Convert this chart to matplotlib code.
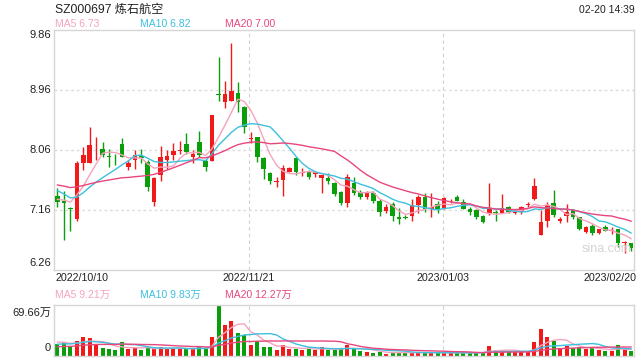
import matplotlib
matplotlib.use('Agg')
import matplotlib.pyplot as plt
import numpy as np

plt.rcParams['font.family'] = ['Liberation Sans', 'Noto Sans CJK SC', 'DejaVu Sans']

title = 'SZ000697 炼石航空'
timestamp = '02-20 14:39'
date_labels = ['2022/10/10', '2022/11/21', '2023/01/03', '2023/02/20']
date_label_idx = [0, 30, 60, 89]
price_ticks = [9.86, 8.96, 8.06, 7.16, 6.26]
vol_max = 69.66
ma_periods = [5, 10, 20]
ma_price_last = [6.73, 6.82, 7.00]
ma_vol_last = [9.21, 9.83, 12.27]

opens = [7.37, 7.29, 7.19, 7.02, 7.87, 7.87, 8.07, 8.075, 7.965, 7.955,
         8.15, 7.81, 7.91, 7.97, 7.885, 7.285, 7.685, 7.91, 7.985, 8.05,
         8.15, 7.95, 8.185, 7.895, 7.90, 8.90, 8.785, 8.80, 8.91, 8.70,
         8.22, 8.25, 7.935, 7.71, 7.58, 7.61, 7.735, 7.935, 7.72, 7.75,
         7.70, 7.635, 7.645, 7.57, 7.43, 7.26, 7.56, 7.435, 7.36, 7.42,
         7.30, 7.15, 7.25, 7.05, 7.05, 7.075, 7.235, 7.36, 7.175, 7.25,
         7.19, 7.29, 7.36, 7.275, 7.175, 7.16, 7.07, 7.12, 7.135, 7.12,
         7.20, 7.12, 7.135, 7.24, 7.32, 6.785, 7.00, 7.27, 6.995, 7.07,
         7.16, 7.05, 6.835, 6.92, 6.82, 6.91, 6.845, 6.87, 6.66, 6.66]
highs = [7.49, 7.44, 7.21, 7.90, 8.11, 8.40, 8.26, 8.175, 8.075, 8.00,
         8.235, 7.91, 8.06, 8.075, 7.91, 7.66, 8.12, 8.06, 8.16, 8.195,
         8.31, 8.06, 8.35, 7.92, 8.585, 9.45, 9.095, 9.67, 9.085, 8.72,
         8.335, 8.25, 7.95, 7.735, 7.65, 7.835, 7.81, 7.95, 7.785, 7.76,
         7.735, 7.685, 7.71, 7.585, 7.45, 7.70, 7.66, 7.46, 7.44, 7.44,
         7.33, 7.25, 7.28, 7.185, 7.08, 7.33, 7.39, 7.42, 7.42, 7.30,
         7.35, 7.33, 7.38, 7.32, 7.21, 7.17, 7.08, 7.56, 7.16, 7.40,
         7.22, 7.15, 7.22, 7.285, 7.635, 7.16, 7.285, 7.46, 7.06, 7.245,
         7.18, 7.06, 6.92, 6.95, 6.88, 6.93, 6.90, 6.88, 6.69, 6.67]
lows = [7.21, 6.71, 6.84, 7.00, 7.76, 7.87, 7.91, 7.95, 7.81, 7.83,
        7.95, 7.76, 7.775, 7.87, 7.45, 7.22, 7.60, 7.77, 7.91, 8.00,
        8.00, 7.87, 7.95, 7.75, 7.89, 8.80, 8.685, 8.80, 8.635, 8.31,
        8.17, 7.885, 7.62, 7.55, 7.51, 7.37, 7.73, 7.685, 7.67, 7.63,
        7.65, 7.41, 7.55, 7.37, 7.23, 7.20, 7.385, 7.33, 7.33, 7.27,
        7.07, 7.12, 7.00, 6.95, 7.02, 7.00, 7.11, 7.13, 7.06, 7.12,
        7.17, 7.27, 7.29, 7.17, 7.09, 7.02, 6.96, 7.085, 7.00, 7.11,
        7.12, 7.10, 7.10, 7.20, 7.31, 6.785, 6.91, 7.06, 6.97, 6.985,
        7.02, 6.86, 6.82, 6.78, 6.80, 6.84, 6.80, 6.61, 6.52, 6.55]
closes = [7.28, 7.27, 7.18, 7.87, 7.985, 8.135, 8.08, 7.985, 7.955, 7.95,
          7.96, 7.86, 7.985, 7.945, 7.51, 7.635, 7.95, 7.97, 8.045, 8.065,
          8.035, 7.995, 7.985, 7.81, 8.585, 8.89, 8.90, 8.95, 8.785, 8.40,
          8.24, 7.95, 7.77, 7.60, 7.60, 7.785, 7.785, 7.735, 7.73, 7.65,
          7.735, 7.68, 7.60, 7.395, 7.26, 7.65, 7.42, 7.36, 7.42, 7.30,
          7.125, 7.21, 7.075, 7.02, 7.045, 7.235, 7.36, 7.175, 7.21, 7.17,
          7.335, 7.30, 7.30, 7.17, 7.135, 7.06, 6.985, 7.185, 7.11, 7.185,
          7.135, 7.135, 7.20, 7.25, 7.52, 6.985, 7.235, 7.085, 7.025, 7.125,
          7.06, 6.87, 6.90, 6.81, 6.87, 6.85, 6.855, 6.67, 6.685, 6.585]
volumes = [16.3, 18.6, 12.5, 20.9, 26.5, 24.0, 16.3, 10.7, 9.3, 7.9,
           18.6, 10.2, 10.7, 7.9, 10.7, 10.7, 12.5, 9.3, 10.7, 9.3,
           9.3, 10.7, 12.5, 9.3, 26.5, 69.66, 41.8, 47.4, 31.1, 29.3,
           15.3, 20.0, 12.5, 12.5, 7.9, 14.9, 10.2, 10.2, 8.4, 10.2,
           8.4, 12.5, 7.9, 7.9, 10.2, 15.3, 10.2, 7.0, 5.6, 4.6,
           5.6, 3.3, 4.6, 4.6, 4.6, 4.6, 4.6, 4.6, 4.6, 4.6,
           4.2, 4.2, 4.2, 4.6, 4.2, 4.6, 5.1, 13.9, 7.9, 7.0,
           6.0, 5.1, 5.6, 5.6, 18.6, 36.2, 26.5, 20.9, 10.7, 13.9,
           10.7, 12.5, 9.3, 10.7, 7.9, 7.0, 7.0, 15.3, 9.3, 7.0]
# closes / volumes before the window, estimated from where the MA lines start
pre_closes = [7.62, 7.62, 7.62, 7.62, 7.62, 7.62, 7.62, 7.62, 7.62, 7.62,
              7.77, 7.77, 7.77, 7.30, 7.30, 7.33, 7.33, 7.33, 7.33]
pre_volumes = [9.0, 9.0, 9.0, 9.0, 9.0, 9.0, 9.0, 9.0, 9.0, 9.0,
               13.0, 13.0, 13.0, 13.0, 13.0, 19.7, 19.7, 19.7, 19.7]

RED = '#f01a1a'
GREEN = '#0b9e0b'
ma_colors = ['#f5a3bd', '#3cc0de', '#e8477d']
GRID = '#dcdcdc'
SPINE = '#d6d6d6'

def moving(pre, vals, n):
    full = np.array(pre + vals, dtype=float)
    out = np.convolve(full, np.ones(n) / n, mode='valid')
    return out[-len(vals):]

n = len(closes)
idx = np.arange(n)
o = np.array(opens); c = np.array(closes); h = np.array(highs); l = np.array(lows)
up = c >= o
cols = np.where(up, RED, GREEN)

W, H = 640, 360
fig = plt.figure(figsize=(6.4, 3.6), dpi=100)
fig.patch.set_facecolor('white')
ax = fig.add_axes([54 / W, 1 - 270 / H, 580 / W, 240 / H])
axv = fig.add_axes([54 / W, 1 - 356 / H, 580 / W, 51 / H])

xlim = (-0.54, 89.46)
for a in (ax, axv):
    a.set_xlim(*xlim)
    a.set_xticks([]); a.set_yticks([])
    for s in a.spines.values():
        s.set_color(SPINE); s.set_linewidth(1.0)
    for xi in (29.75, 59.75):
        a.axvline(xi, color='#cfcfcf', lw=0.8, ls=(0, (3, 3)), zorder=0)

ax.set_ylim(price_ticks[-1], price_ticks[0])
for t in price_ticks[1:-1]:
    ax.axhline(t, color=GRID, lw=1.0, ls=(0, (2, 2)), zorder=0)

# candles
ax.vlines(idx, l, h, colors=cols, lw=1.0, zorder=2)
body_b = np.minimum(o, c)
body_h = np.maximum(np.abs(c - o), 0.012)
ax.bar(idx, body_h, bottom=body_b, width=0.7, color=cols, lw=0, zorder=3)

for p, col in zip(ma_periods, ma_colors):
    ax.plot(idx, moving(pre_closes, closes, p), color=col, lw=1.0, zorder=4)

# volume
axv.set_ylim(0, vol_max)
axv.bar(idx, volumes, width=0.62, color=cols, lw=0, zorder=2)
for p, col in zip(ma_periods, ma_colors):
    axv.plot(idx, moving(pre_volumes, volumes, p), color=col, lw=1.0, zorder=3)

def ftext(x, y, s, **kw):
    fig.text(x / W, 1 - y / H, s, **kw)

ftext(55, 10, title, fontsize=8.7, color='#222222', va='center', ha='left')
ftext(635, 10, timestamp, fontsize=7.5, color='#222222', va='center', ha='right')

leg_x = [55, 140, 225]
for x, p, v, col in zip(leg_x, ma_periods, ma_price_last, ma_colors):
    ftext(x, 24, f'MA{p} {v:.2f}', fontsize=7.5, color=col, va='center', ha='left')
for x, p, v, col in zip(leg_x, ma_periods, ma_vol_last, ma_colors):
    ftext(x, 295, f'MA{p} {v:.2f}万', fontsize=7.5, color=col, va='center', ha='left')

tick_y = [35, 90, 150, 210, 263]
for t, y in zip(price_ticks, tick_y):
    ftext(51, y, f'{t:.2f}', fontsize=8, color='#222222', va='center', ha='right')

ftext(51, 313, f'{vol_max:.2f}万', fontsize=8, color='#222222', va='center', ha='right')
ftext(51, 348, '0', fontsize=8, color='#222222', va='center', ha='right')

date_x = [55, 249, 443, 636]
date_ha = ['left', 'center', 'center', 'right']
for s, x, ha in zip(date_labels, date_x, date_ha):
    ftext(x, 278, s, fontsize=7.7, color='#222222', va='center', ha=ha)

ftext(607, 249, 'sina.com', fontsize=9, color='#d4d4d4', va='center', ha='center')

fig.savefig('out.png', dpi=100, facecolor='white')
